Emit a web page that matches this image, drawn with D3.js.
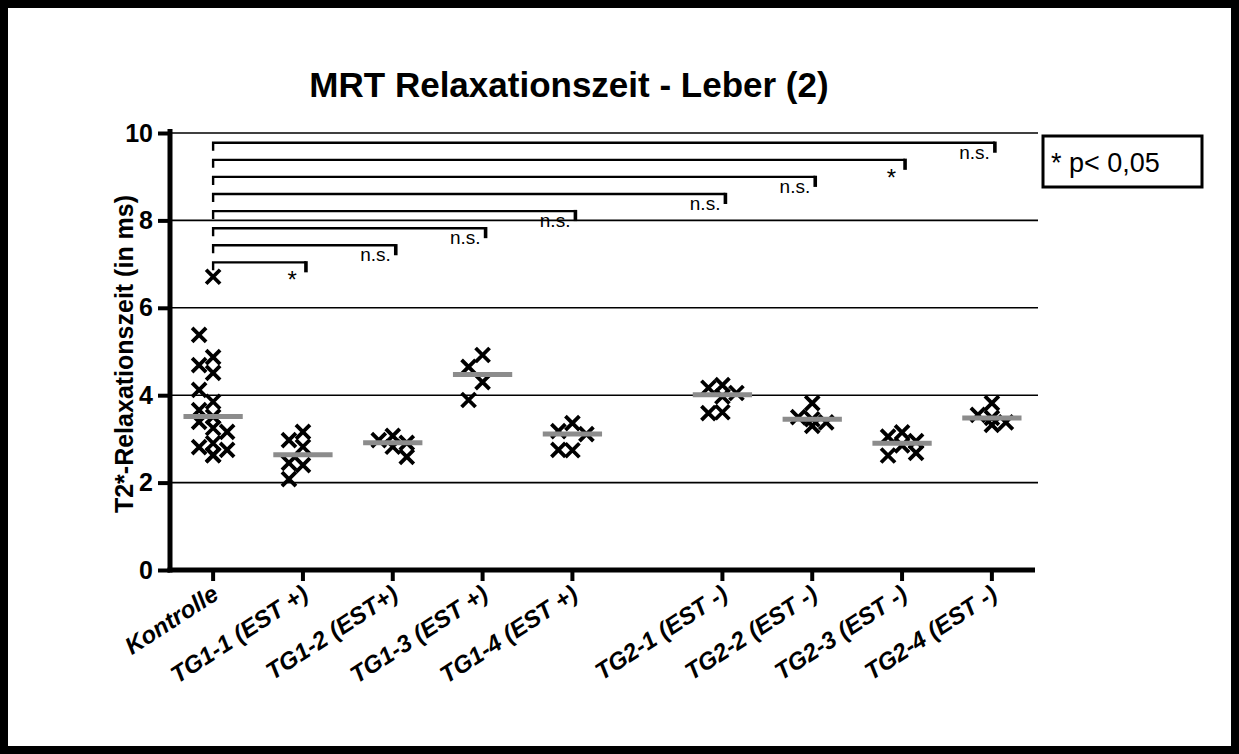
<!DOCTYPE html>
<html>
<head>
<meta charset="utf-8">
<script src="https://cdn.jsdelivr.net/npm/d3@7"></script>
<style>
  html, body { margin: 0; padding: 0; background: #fff; }
  svg { display: block; font-family: "Liberation Sans", Arial, Helvetica, sans-serif; }
</style>
</head>
<body>
<svg id="chart" width="1239" height="754"></svg>
<script>
// Group names along the x axis (two blocks: TG1 with EST+, TG2 with EST-)
const groups = ["Kontrolle", "TG1-1 (EST +)", "TG1-2 (EST+)", "TG1-3 (EST +)", "TG1-4 (EST +)",
                "TG2-1 (EST -)", "TG2-2 (EST -)", "TG2-3 (EST -)", "TG2-4 (EST -)"];
const groupBlock = [0, 0, 0, 0, 0, 1, 1, 1, 1];

// T2* relaxation times (ms) per animal
const kontrolle = [6.71, 5.38, 4.87, 4.69, 4.51, 4.12, 3.85, 3.66, 3.51, 3.39, 3.25, 3.16, 2.90, 2.81, 2.75, 2.63, 2.63];
const tg1_1 = [3.16, 2.97, 2.82, 2.45, 2.40, 2.08];
const tg1_2 = [3.07, 2.97, 2.91, 2.82, 2.59];
const tg1_3 = [4.92, 4.65, 4.30, 3.89];
const tg1_4 = [3.36, 3.18, 3.11, 2.75, 2.74];
const tg2_1 = [4.23, 4.17, 4.05, 3.97, 3.61, 3.59];
const tg2_2 = [3.82, 3.50, 3.45, 3.38, 3.30];
const tg2_3 = [3.15, 3.05, 2.95, 2.85, 2.68, 2.62];
const tg2_4 = [3.82, 3.55, 3.48, 3.38, 3.32];
const series = [kontrolle, tg1_1, tg1_2, tg1_3, tg1_4, tg2_1, tg2_2, tg2_3, tg2_4];

// Significance of each group vs. Kontrolle (groups 1..8)
const significance = ["*", "n.s.", "n.s.", "n.s.", "n.s.", "n.s.", "*", "n.s."];

const yTicks = [0, 2, 4, 6, 8, 10];
const legendText = "* p< 0,05";
const titleText = "MRT Relaxationszeit - Leber (2)";
const yLabelText = "T2*-Relaxationszeit (in ms)";

const svg = d3.select("#chart");
const W = 1239, H = 754;
const plot = { left: 170, right: 1035, top: 133, bottom: 570 };

// Outer frame
svg.append("rect").attr("x", 4).attr("y", 4).attr("width", W - 8).attr("height", H - 8)
  .attr("fill", "#fff").attr("stroke", "#000").attr("stroke-width", 8);

// x position: category index plus an extra gap before the second block
const blockGap = 0.67;
const pos = groups.map((g, i) => i + groupBlock[i] * blockGap);
const x = d3.scaleLinear().domain([-0.48, pos[pos.length - 1] + 0.48]).range([plot.left, plot.right]);
const y = d3.scaleLinear().domain([0, 10]).range([plot.bottom, plot.top]);

// Gridlines
svg.append("g").selectAll("line").data(yTicks.filter(t => t > 0)).join("line")
  .attr("x1", plot.left).attr("x2", plot.right + 3)
  .attr("y1", d => y(d)).attr("y2", d => y(d))
  .attr("stroke", "#000").attr("stroke-width", 1.6);

// Title
svg.append("text").attr("x", 569).attr("y", 97).attr("text-anchor", "middle")
  .attr("font-size", 35).attr("font-weight", "bold").text(titleText);

// Y axis
const yAxis = svg.append("g").attr("transform", `translate(${plot.left},0)`)
  .call(d3.axisLeft(y).tickValues(yTicks).tickSize(12).tickPadding(5).tickFormat(d3.format("d")));
yAxis.select(".domain").remove();
yAxis.selectAll(".tick line").attr("stroke", "#000").attr("stroke-width", 4);
yAxis.selectAll(".tick text").attr("font-size", 25).attr("font-weight", "bold")
  .attr("font-family", "Liberation Sans, Arial, sans-serif").attr("fill", "#000");
svg.append("line").attr("x1", plot.left).attr("x2", plot.left)
  .attr("y1", plot.top - 4).attr("y2", plot.bottom + 2.5)
  .attr("stroke", "#000").attr("stroke-width", 5);

svg.append("text")
  .attr("transform", `translate(133, 354) rotate(-90)`)
  .attr("text-anchor", "middle").attr("font-size", 25).attr("font-weight", "bold")
  .text(yLabelText);

// X axis
svg.append("line").attr("x1", plot.left - 2.5).attr("x2", plot.right)
  .attr("y1", plot.bottom).attr("y2", plot.bottom)
  .attr("stroke", "#000").attr("stroke-width", 5);
svg.append("g").selectAll("line").data(pos).join("line")
  .attr("x1", d => x(d)).attr("x2", d => x(d))
  .attr("y1", plot.bottom).attr("y2", plot.bottom + 11)
  .attr("stroke", "#000").attr("stroke-width", 4);
svg.append("g").selectAll("text").data(groups).join("text")
  .attr("transform", (d, i) => `translate(${x(pos[i]) + 7},${plot.bottom + 28}) rotate(-33)`)
  .attr("text-anchor", "end").attr("font-size", 24).attr("font-weight", "bold")
  .attr("font-style", "italic")
  .text(d => d);

// Points: simple swarm so that crosses with similar values sit side by side
const markerHalf = 7;
const step = 7;
function swarm(values) {
  const placed = [];
  const order = values.map((v, i) => i).sort((a, b) => values[b] - values[a]);
  const out = new Array(values.length);
  order.forEach((i, rank) => {
    const py = y(values[i]);
    const candidates = rank % 2 ? [-2, 0, 2, -1, 1, -3, 3] : [0, 2, -2, 1, -1, 3, -3];
    let chosen = 0;
    for (const c of candidates) {
      const px = c * step;
      const clash = placed.some(p => Math.abs(p.py - py) < 11 && Math.abs(p.px - px) < 12);
      if (!clash) { chosen = px; break; }
    }
    placed.push({ px: chosen, py });
    out[i] = chosen;
  });
  return out;
}

const pts = [];
series.forEach((vals, gi) => {
  const dx = swarm(vals);
  vals.forEach((v, k) => pts.push({ gx: x(pos[gi]) + dx[k], gy: y(v) }));
});
const crosses = svg.append("g");
crosses.selectAll("path").data(pts).join("path")
  .attr("d", d => `M${d.gx - markerHalf},${d.gy - markerHalf}L${d.gx + markerHalf},${d.gy + markerHalf}` +
                  `M${d.gx - markerHalf},${d.gy + markerHalf}L${d.gx + markerHalf},${d.gy - markerHalf}`)
  .attr("stroke", "#000").attr("stroke-width", 3.8).attr("fill", "none");

// Median bars
const medHalf = 0.33;
svg.append("g").selectAll("line").data(series).join("line")
  .attr("x1", (d, i) => x(pos[i] - medHalf)).attr("x2", (d, i) => x(pos[i] + medHalf))
  .attr("y1", d => y(d3.median(d))).attr("y2", d => y(d3.median(d)))
  .attr("stroke", "#8c8c8c").attr("stroke-width", 5);

// Comparison brackets from Kontrolle to each group
const bracketBase = 7.04, bracketStep = 0.391;
const br = svg.append("g");
significance.forEach((s, k) => {
  const gi = k + 1;
  const level = y(bracketBase + k * bracketStep);
  const x0 = x(pos[0]);
  const x1 = x(pos[gi]) + 3;
  br.append("path").attr("d", `M${x0},${level + 8}V${level}H${x1}`)
    .attr("fill", "none").attr("stroke", "#000").attr("stroke-width", 2.4);
  br.append("line").attr("x1", x1).attr("x2", x1).attr("y1", level - 1.2).attr("y2", level + 10)
    .attr("stroke", "#000").attr("stroke-width", 3.6);
  if (s === "*") {
    br.append("text").attr("x", x1 - 9).attr("y", level + 26).attr("text-anchor", "end")
      .attr("font-size", 24).text(s);
  } else {
    br.append("text").attr("x", x1 - 5).attr("y", level + 16).attr("text-anchor", "end")
      .attr("font-size", 19).text(s);
  }
});

// Legend box
svg.append("rect").attr("x", 1043).attr("y", 136).attr("width", 159).attr("height", 51)
  .attr("fill", "#fff").attr("stroke", "#000").attr("stroke-width", 3);
svg.append("text").attr("x", 1051).attr("y", 172).attr("font-size", 27).text(legendText);
</script>
</body>
</html>
